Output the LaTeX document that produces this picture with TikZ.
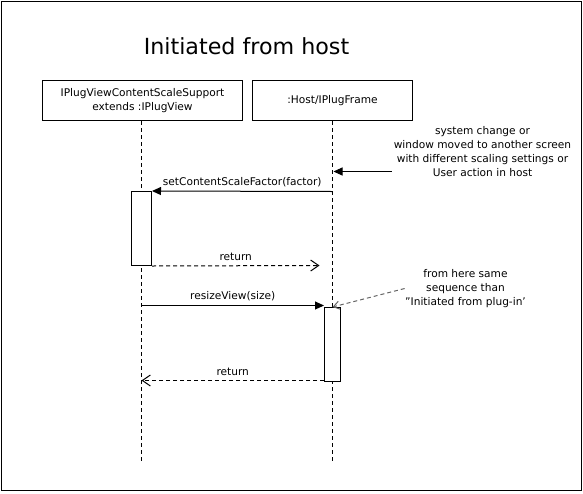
\documentclass[tikz,border=0pt]{standalone}
\usepackage{fontspec}
\setmainfont{DejaVu Sans}
\usetikzlibrary{arrows.meta,positioning}

\begin{document}
\begin{tikzpicture}[
        x=1pt, y=-1pt, line width=1pt,
        font=\fontsize{10.6}{14}\selectfont,
        head/.style={rectangle, draw=black, fill=white, minimum height=40pt, inner sep=0pt, align=center},
        activation/.style={rectangle, draw=black, fill=white, inner sep=0pt, minimum height=74pt},
        lifeline/.style={draw, dash pattern=on 4pt off 3pt},
        call/.style={draw, -{Triangle[length=9pt, width=8pt]}},
        reply/.style={draw, dash pattern=on 4pt off 3pt, -{Straight Barb[length=8pt, width=11pt]}},
        hint/.style={draw=black!60, dash pattern=on 4pt off 3pt, -{Straight Barb[length=6pt, width=8pt]}},
        note/.style={align=center, inner sep=0pt}
    ]
        % Frame
        \useasboundingbox (-0.5,-0.5) rectangle (582.5,492.5);
        \draw (1,1) rectangle (581,490);
        \node[font=\fontsize{22.2}{26}\selectfont] (title) at (246,46) {Initiated from host};

        % Lifelines
        \node[head, minimum width=200pt] (view) at (142,100) {IPlugViewContentScaleSupport\\extends :IPlugView};
        \node[head, minimum width=160pt] (host) at (332,100) {:Host/IPlugFrame};
        \coordinate (viewend) at (141,460);
        \coordinate (hostend) at (332,460);
        \draw[lifeline] (view.south -| viewend) -- (viewend);
        \draw[lifeline] (host.south) -- (hostend);

        % Activations
        \node[activation, minimum width=20pt] (scaleact) at (141,228) {};
        \node[activation, minimum width=16pt] (resizeact) at (332,344) {};

        % Trigger
        \node[note] (cause) at (482,151) {system change or\\window moved to another screen\\with different scaling settings or\\User action in host};
        \coordinate (causetail) at (391,171);
        \coordinate (hostin) at (333,171);
        \draw[call] (causetail) -- (hostin);

        % Messages
        \coordinate (hostcall) at (332,191);
        \coordinate (hostret) at (319,265);
        \coordinate (viewcall) at (141,305);
        \coordinate (viewret) at (141,380);
        \draw[call] (hostcall) -- node[above=1pt] {setContentScaleFactor(factor)} (scaleact.north east);
        \draw[reply] (scaleact.south east) -- node[above=1pt] {return} (hostret);
        \draw[call] (viewcall) -- node[above=1pt] {resizeView(size)} (viewcall -| resizeact.west);
        \draw[reply] (resizeact.south west |- viewret) -- node[above=1pt] {return} (viewret);

        % Hint
        \node[note] (same) at (465,288) {from here same\\sequence than\\"Initiated from plug-in'};
        \draw[hint] (same.west) -- (resizeact.north);
    \end{tikzpicture}
\end{document}
